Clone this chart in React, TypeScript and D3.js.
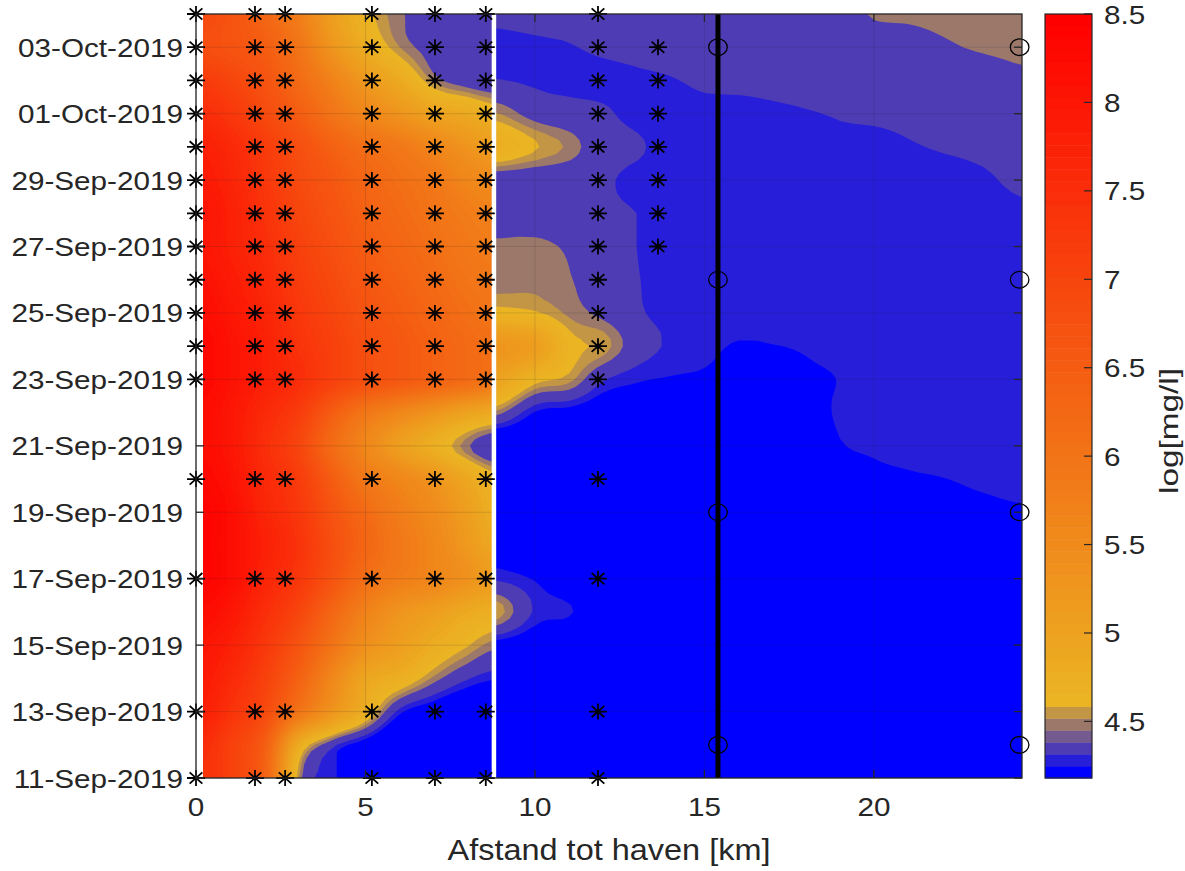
import React, { useEffect, useRef } from 'react';
import * as d3 from 'd3';

// axis setup
const firstDay = '11-Sep-2019';
const lastDay = '04-Oct-2019';
const yTickLabels = [
  '11-Sep-2019', '13-Sep-2019', '15-Sep-2019', '17-Sep-2019', '19-Sep-2019', '21-Sep-2019',
  '23-Sep-2019', '25-Sep-2019', '27-Sep-2019', '29-Sep-2019', '01-Oct-2019', '03-Oct-2019',
];
const xTicks = [0, 5, 10, 15, 20];
const xMaxKm = 24.37;
const colorTicks = [4.5, 5, 5.5, 6, 6.5, 7, 7.5, 8, 8.5];
const colorMin = 4.18;
const colorMax = 8.5;

// log concentration, one row per day (11-Sep .. 04-Oct), upstream of the lock
const leftKm = [0.22, 1, 2, 3, 4, 5, 6, 7, 8, 8.79];
const leftValues = [
  [7.4, 7.1, 6.4, 4.55, 4.28, 4.1, 4.0, 4.0, 4.0, 4.0],
  [7.5, 7.1, 6.5, 4.85, 4.36, 4.17, 4.0, 4.0, 4.0, 4.0],
  [7.8, 7.4, 6.9, 6.0, 5.3, 4.75, 4.28, 4.15, 4.05, 4.0],
  [7.9, 7.6, 7.1, 6.4, 5.6, 4.95, 4.75, 4.5, 4.33, 4.26],
  [8.0, 7.8, 7.3, 6.7, 6.0, 5.4, 5.1, 4.8, 4.6, 4.48],
  [8.2, 8.0, 7.5, 7.0, 6.3, 5.7, 5.3, 5.1, 4.85, 4.75],
  [8.4, 8.2, 7.7, 7.3, 6.7, 6.1, 5.8, 5.6, 5.35, 5.1],
  [8.4, 8.2, 7.8, 7.4, 6.8, 6.3, 5.9, 5.6, 5.2, 4.9],
  [8.4, 8.2, 7.7, 7.3, 6.7, 6.2, 5.8, 5.5, 5.1, 4.75],
  [8.3, 8.1, 7.6, 7.2, 6.5, 5.9, 5.6, 5.3, 4.9, 4.65],
  [8.2, 8.0, 7.5, 7.0, 6.2, 5.6, 5.1, 4.75, 4.47, 4.33],
  [8.2, 8.0, 7.6, 7.2, 6.5, 5.95, 5.6, 5.3, 5.0, 4.85],
  [8.3, 8.1, 7.8, 7.5, 7.1, 6.8, 6.6, 6.4, 6.2, 6.0],
  [8.3, 8.1, 7.8, 7.4, 7.1, 6.8, 6.6, 6.4, 6.2, 6.1],
  [8.2, 8.0, 7.7, 7.3, 7.0, 6.7, 6.5, 6.3, 6.1, 6.0],
  [8.1, 7.9, 7.6, 7.2, 6.9, 6.6, 6.4, 6.2, 6.0, 5.9],
  [8.0, 7.8, 7.5, 7.1, 6.8, 6.5, 6.3, 6.1, 5.9, 5.8],
  [8.0, 7.8, 7.4, 7.0, 6.7, 6.4, 6.2, 6.0, 5.8, 5.7],
  [7.9, 7.7, 7.3, 6.9, 6.6, 6.3, 6.1, 5.9, 5.6, 5.5],
  [7.8, 7.6, 7.2, 6.8, 6.4, 6.1, 5.9, 5.6, 5.3, 5.1],
  [7.5, 7.3, 6.9, 6.5, 6.0, 5.6, 5.3, 5.0, 4.85, 4.7],
  [7.2, 7.0, 6.7, 6.2, 5.7, 5.2, 4.85, 4.5, 4.38, 4.34],
  [6.8, 6.7, 6.5, 6.0, 5.3, 4.8, 4.52, 4.4, 4.36, 4.35],
  [6.9, 6.7, 6.3, 5.8, 5.1, 4.65, 4.47, 4.38, 4.35, 4.35],
];

// downstream of the lock
const rightKm = [8.79, 10, 11, 12, 13, 14, 15, 16, 17, 18, 19, 20, 21, 22, 23, 24.37];
const rightValues = [
  [4.1, 4.1, 4.1, 4.1, 4.1, 4.1, 4.1, 4.1, 4.1, 4.1, 4.1, 4.1, 4.1, 4.1, 4.1, 4.1],
  [4.1, 4.1, 4.1, 4.1, 4.1, 4.1, 4.1, 4.1, 4.1, 4.1, 4.1, 4.1, 4.1, 4.1, 4.1, 4.1],
  [4.1, 4.1, 4.1, 4.1, 4.1, 4.1, 4.1, 4.1, 4.1, 4.1, 4.1, 4.1, 4.1, 4.1, 4.1, 4.1],
  [4.1, 4.1, 4.1, 4.1, 4.1, 4.1, 4.1, 4.1, 4.1, 4.1, 4.1, 4.1, 4.1, 4.1, 4.1, 4.1],
  [4.2, 4.15, 4.1, 4.1, 4.1, 4.1, 4.1, 4.1, 4.1, 4.1, 4.1, 4.1, 4.1, 4.1, 4.1, 4.1],
  [4.58, 4.3, 4.26, 4.15, 4.1, 4.1, 4.1, 4.1, 4.1, 4.1, 4.1, 4.1, 4.1, 4.1, 4.1, 4.1],
  [4.3, 4.24, 4.15, 4.1, 4.1, 4.1, 4.1, 4.1, 4.1, 4.1, 4.1, 4.1, 4.1, 4.1, 4.1, 4.1],
  [4.18, 4.1, 4.1, 4.1, 4.1, 4.1, 4.1, 4.1, 4.1, 4.1, 4.1, 4.1, 4.1, 4.1, 4.1, 4.1],
  [4.1, 4.1, 4.1, 4.1, 4.1, 4.1, 4.1, 4.1, 4.1, 4.1, 4.1, 4.15, 4.17, 4.19, 4.21, 4.23],
  [4.1, 4.1, 4.1, 4.1, 4.1, 4.1, 4.1, 4.1, 4.1, 4.12, 4.18, 4.22, 4.235, 4.245, 4.26, 4.27],
  [4.05, 4.1, 4.1, 4.1, 4.1, 4.1, 4.1, 4.1, 4.1, 4.15, 4.24, 4.26, 4.27, 4.28, 4.28, 4.28],
  [4.5, 4.24, 4.2, 4.15, 4.15, 4.15, 4.15, 4.15, 4.16, 4.2, 4.26, 4.28, 4.28, 4.28, 4.28, 4.28],
  [5.0, 4.65, 4.55, 4.33, 4.26, 4.24, 4.23, 4.2, 4.2, 4.23, 4.25, 4.28, 4.28, 4.28, 4.28, 4.28],
  [5.3, 5.1, 4.65, 4.56, 4.38, 4.3, 4.27, 4.24, 4.245, 4.255, 4.27, 4.28, 4.28, 4.28, 4.28, 4.28],
  [4.65, 4.6, 4.5, 4.42, 4.33, 4.29, 4.28, 4.28, 4.28, 4.28, 4.28, 4.28, 4.28, 4.28, 4.28, 4.28],
  [4.48, 4.5, 4.46, 4.36, 4.32, 4.28, 4.28, 4.28, 4.28, 4.28, 4.28, 4.28, 4.28, 4.28, 4.28, 4.28],
  [4.47, 4.48, 4.43, 4.34, 4.315, 4.28, 4.28, 4.28, 4.28, 4.28, 4.28, 4.28, 4.28, 4.28, 4.28, 4.28],
  [4.37, 4.36, 4.34, 4.33, 4.315, 4.28, 4.28, 4.28, 4.28, 4.28, 4.28, 4.28, 4.28, 4.28, 4.28, 4.3],
  [4.36, 4.35, 4.35, 4.33, 4.29, 4.28, 4.28, 4.28, 4.28, 4.28, 4.28, 4.29, 4.29, 4.29, 4.3, 4.33],
  [4.75, 4.6, 4.5, 4.37, 4.33, 4.28, 4.28, 4.28, 4.28, 4.28, 4.3, 4.3, 4.31, 4.32, 4.33, 4.34],
  [4.53, 4.4, 4.36, 4.33, 4.29, 4.28, 4.29, 4.29, 4.3, 4.31, 4.32, 4.325, 4.33, 4.34, 4.35, 4.36],
  [4.32, 4.3, 4.29, 4.29, 4.3, 4.31, 4.33, 4.335, 4.34, 4.345, 4.35, 4.35, 4.35, 4.36, 4.37, 4.42],
  [4.29, 4.3, 4.31, 4.33, 4.34, 4.35, 4.355, 4.355, 4.36, 4.36, 4.37, 4.38, 4.39, 4.43, 4.46, 4.48],
  [4.335, 4.345, 4.35, 4.36, 4.36, 4.36, 4.36, 4.37, 4.37, 4.38, 4.4, 4.46, 4.47, 4.48, 4.49, 4.5],
];

// measurement locations
const sampleKm = [0, 1.74, 2.63, 5.19, 7.05, 8.55, 11.86];
const sampleDates = [
  '11-Sep-2019', '13-Sep-2019', '17-Sep-2019', '20-Sep-2019', '23-Sep-2019', '24-Sep-2019',
  '25-Sep-2019', '26-Sep-2019', '27-Sep-2019', '28-Sep-2019', '29-Sep-2019', '30-Sep-2019',
  '01-Oct-2019', '02-Oct-2019', '03-Oct-2019', '04-Oct-2019',
];
const extraKm = [13.63];
const extraDates = [
  '27-Sep-2019', '28-Sep-2019', '29-Sep-2019', '30-Sep-2019', '01-Oct-2019', '02-Oct-2019', '03-Oct-2019',
];
const circleKm = [15.4, 24.3];
const circleDates = ['12-Sep-2019', '19-Sep-2019', '26-Sep-2019', '03-Oct-2019'];
const lockKm = 8.79;
const bridgeKm = 15.4;

const lowColors = [
  'rgb(0,0,255)', 'rgb(39,30,218)', 'rgb(78,60,181)',
  'rgb(117,90,144)', 'rgb(156,120,107)', 'rgb(195,150,70)',
];

// catmull-rom step between p1 and p2, kept inside [p1, p2] so no new extremes appear
function cubic(p0: number, p1: number, p2: number, p3: number, t: number) {
  const t2 = t * t, t3 = t2 * t;
  const v = 0.5 * (2 * p1 + (p2 - p0) * t + (2 * p0 - 5 * p1 + 4 * p2 - p3) * t2 + (3 * p1 - p0 - 3 * p2 + p3) * t3);
  return Math.max(Math.min(p1, p2), Math.min(Math.max(p1, p2), v));
}

function refine(a: number[], f: number) {
  const n = a.length;
  const out: number[] = [];
  for (let i = 0; i < n - 1; i++) {
    for (let s = 0; s < f; s++) {
      out.push(cubic(a[Math.max(i - 1, 0)], a[i], a[i + 1], a[Math.min(i + 2, n - 1)], s / f));
    }
  }
  out.push(a[n - 1]);
  return out;
}

export default function App() {
  const svgRef = useRef<SVGSVGElement>(null);

  useEffect(() => {
    const box = { left: 196, right: 1022, top: 14, bottom: 778 };
    const cb = { left: 1045, right: 1092 };
    const ink = '#262626';
    const font = "'Liberation Sans', Arial, sans-serif";
    const stretch = 1.12;
    const tickSize = 26.5;
    const labelSize = 29;

    const parse = d3.utcParse('%d-%b-%Y');
    const t0 = parse(firstDay)!;
    const t1 = parse(lastDay)!;

    const x = d3.scaleLinear().domain([0, xMaxKm]).range([box.left, box.right]);
    const y = d3.scaleUtc().domain([t0, t1]).range([box.bottom, box.top]);
    const yDay = (d: number) => y(new Date(+t0 + d * 864e5));

    const nColors = 64;
    const hot = d3.interpolateRgb('rgb(235,180,35)', 'rgb(255,0,0)');
    const cmap = d3.range(nColors).map(k =>
      k < lowColors.length ? lowColors[k] : hot((k - lowColors.length) / (nColors - 1 - lowColors.length)));
    const step = (colorMax - colorMin) / nColors;
    // contour levels on the colour bin edges; the plot never shows the 4th bin
    const levels = d3.range(1, nColors).filter(k => k !== 3);
    const thresholds = levels.map(k => colorMin + k * step);

    const svg = d3.select(svgRef.current!);
    svg.selectAll('*').remove();

    svg.append('defs').append('clipPath').attr('id', 'plotclip')
      .append('rect')
      .attr('x', box.left).attr('y', box.top)
      .attr('width', box.right - box.left).attr('height', box.bottom - box.top);

    const field = svg.append('g').attr('clip-path', 'url(#plotclip)');

    const drawField = (km: number[], rows: number[][]) => {
      const f = 5;
      const nx = km.length;
      const ny = rows.length;
      const fineRows = rows.map(r => refine(r, f));
      const nxF = fineRows[0].length;
      const fineCols = d3.range(nxF).map(i => refine(fineRows.map(r => r[i]), f));
      const nyF = fineCols[0].length;
      const grid = new Array(nxF * nyF);
      for (let j = 0; j < nyF; j++) for (let i = 0; i < nxF; i++) grid[j * nxF + i] = fineCols[i][j];

      const kmOf = d3.scaleLinear().domain(d3.range(nx)).range(km).clamp(true);
      const dayOf = d3.scaleLinear().domain([0, ny - 1]).range([0, ny - 1]).clamp(true);
      const path = d3.geoPath(d3.geoTransform({
        point(px: number, py: number) {
          this.stream.point(x(kmOf((px - 0.5) / f)), yDay(dayOf((py - 0.5) / f)));
        },
      }));
      const g = field.append('g');
      g.append('rect')
        .attr('x', x(km[0])).attr('y', yDay(ny - 1))
        .attr('width', x(km[nx - 1]) - x(km[0]))
        .attr('height', yDay(0) - yDay(ny - 1))
        .attr('fill', cmap[0]);
      const contours = d3.contours().size([nxF, nyF]).thresholds(thresholds)(grid);
      g.selectAll('path')
        .data(contours)
        .join('path')
        .attr('d', d => path(d as any))
        .attr('fill', (_, i) => cmap[levels[i]])
        .attr('fill-rule', 'evenodd');
    };

    drawField(leftKm, leftValues);
    drawField(rightKm, rightValues);

    // grid
    const gridG = svg.append('g').attr('stroke', ink).attr('stroke-opacity', 0.15).attr('stroke-width', 1);
    xTicks.forEach(v => {
      gridG.append('line').attr('x1', x(v)).attr('x2', x(v)).attr('y1', box.top).attr('y2', box.bottom);
    });
    yTickLabels.forEach(s => {
      const yy = y(parse(s)!);
      gridG.append('line').attr('x1', box.left).attr('x2', box.right).attr('y1', yy).attr('y2', yy);
    });

    // lock and bridge lines
    svg.append('line')
      .attr('x1', x(lockKm)).attr('x2', x(lockKm)).attr('y1', box.top).attr('y2', box.bottom)
      .attr('stroke', '#fff').attr('stroke-width', 4.5);
    svg.append('line')
      .attr('x1', x(bridgeKm)).attr('x2', x(bridgeKm)).attr('y1', box.top).attr('y2', box.bottom)
      .attr('stroke', '#000').attr('stroke-width', 5);

    // markers
    const star = (cx: number, cy: number) => {
      const rx = 9, ry = 8, dx = rx * 0.7071, dy = ry * 0.7071;
      return `M${cx - rx},${cy}H${cx + rx}M${cx},${cy - ry}V${cy + ry}` +
        `M${cx - dx},${cy - dy}L${cx + dx},${cy + dy}M${cx - dx},${cy + dy}L${cx + dx},${cy - dy}`;
    };
    const stars = sampleDates.flatMap(s => sampleKm.map(k => [k, s] as [number, string]))
      .concat(extraDates.flatMap(s => extraKm.map(k => [k, s] as [number, string])));
    svg.append('g')
      .selectAll('path')
      .data(stars)
      .join('path')
      .attr('d', d => star(x(d[0]), y(parse(d[1])!)))
      .attr('stroke', '#000').attr('stroke-width', 1.8).attr('fill', 'none');
    const rings = circleDates.flatMap(s => circleKm.map(k => [k, s] as [number, string]));
    svg.append('g')
      .selectAll('ellipse')
      .data(rings)
      .join('ellipse')
      .attr('cx', d => x(d[0])).attr('cy', d => y(parse(d[1])!))
      .attr('rx', 9.3).attr('ry', 8.3)
      .attr('stroke', '#000').attr('stroke-width', 1.3).attr('fill', 'none');

    // frame and ticks
    const axes = svg.append('g').attr('stroke', ink).attr('stroke-width', 1.3);
    axes.append('rect')
      .attr('x', box.left).attr('y', box.top)
      .attr('width', box.right - box.left).attr('height', box.bottom - box.top)
      .attr('fill', 'none');
    xTicks.forEach(v => {
      axes.append('line').attr('x1', x(v)).attr('x2', x(v)).attr('y1', box.bottom).attr('y2', box.bottom - 8);
      axes.append('line').attr('x1', x(v)).attr('x2', x(v)).attr('y1', box.top).attr('y2', box.top + 8);
    });
    yTickLabels.forEach(s => {
      const yy = y(parse(s)!);
      axes.append('line').attr('x1', box.left).attr('x2', box.left + 8).attr('y1', yy).attr('y2', yy);
      axes.append('line').attr('x1', box.right).attr('x2', box.right - 8).attr('y1', yy).attr('y2', yy);
    });

    const text = (tx: number, ty: number, str: string, anchor: string, size: number, rotate = false) => {
      svg.append('text')
        .attr('transform', rotate
          ? `translate(${tx},${ty}) rotate(-90) scale(1.15,0.92)`
          : `translate(${tx},${ty}) scale(${stretch},1)`)
        .attr('text-anchor', anchor)
        .attr('font-family', font)
        .attr('font-size', size)
        .attr('fill', ink)
        .text(str);
    };

    xTicks.forEach(v => text(x(v), 816, String(v), 'middle', tickSize));
    yTickLabels.forEach(s => text(183, y(parse(s)!) + 9.5, s, 'end', tickSize));
    text((box.left + box.right) / 2, 860, 'Afstand tot haven [km]', 'middle', labelSize);

    // colorbar
    const cy = d3.scaleLinear().domain([colorMin, colorMax]).range([box.bottom, box.top]);
    svg.append('g')
      .selectAll('rect')
      .data(cmap)
      .join('rect')
      .attr('x', cb.left)
      .attr('width', cb.right - cb.left)
      .attr('y', (_, k) => cy(colorMin + (k + 1) * step))
      .attr('height', (_, k) => cy(colorMin + k * step) - cy(colorMin + (k + 1) * step) + 0.5)
      .attr('fill', c => c);
    const cbAxis = svg.append('g').attr('stroke', ink).attr('stroke-width', 1.2);
    cbAxis.append('rect')
      .attr('x', cb.left).attr('y', box.top)
      .attr('width', cb.right - cb.left).attr('height', box.bottom - box.top)
      .attr('fill', 'none');
    colorTicks.forEach(v => {
      cbAxis.append('line').attr('x1', cb.right).attr('x2', cb.right - 8).attr('y1', cy(v)).attr('y2', cy(v));
      text(1104, cy(v) + 9.5, String(v), 'start', tickSize);
    });
    text(1178, 431, 'log[mg/l]', 'middle', labelSize, true);
  }, []);

  return (
    <svg
      ref={svgRef}
      width={1185}
      height={871}
      style={{ position: 'absolute', left: 0, top: 0, background: '#fff' }}
    />
  );
}
